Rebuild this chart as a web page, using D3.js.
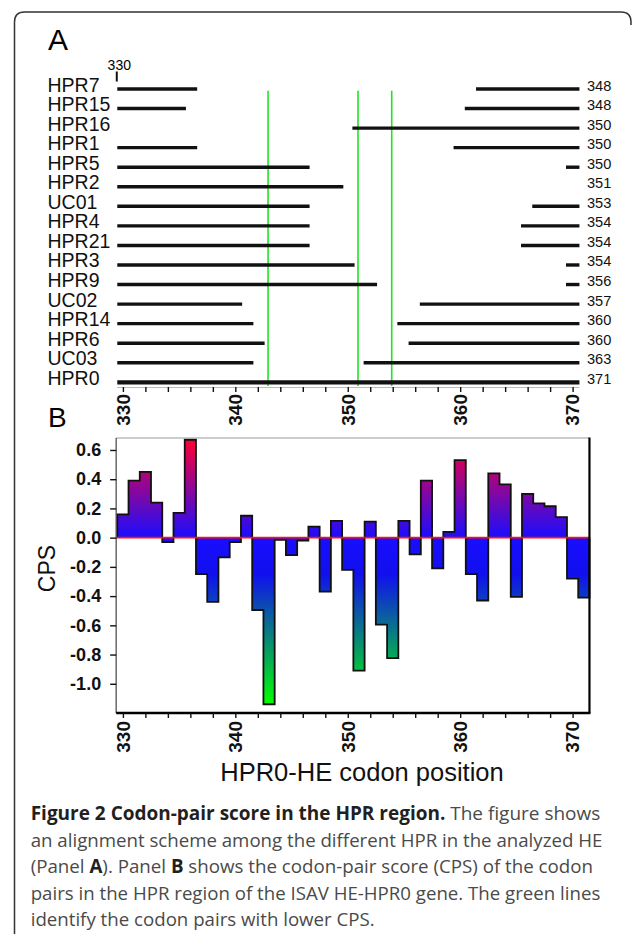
<!DOCTYPE html>
<html>
<head>
<meta charset="utf-8">
<script src="https://cdn.jsdelivr.net/npm/d3@7"></script>
<style>
  body { margin: 0; background: #fff; }
  svg { display: block; }
  .sans { font-family: 'Liberation Sans', Arial, Helvetica, sans-serif; }
  .cap { font-family: 'Open Sans', 'Noto Sans', sans-serif; }
</style>
</head>
<body>
<div id="chart"></div>
<script>
// Panel A: alinhamento dos HPR
const rowNames = ['HPR7', 'HPR15', 'HPR16', 'HPR1', 'HPR5', 'HPR2', 'UC01', 'HPR4',
  'HPR21', 'HPR3', 'HPR9', 'UC02', 'HPR14', 'HPR6', 'UC03', 'HPR0'];
const rowEnds = [348, 348, 350, 350, 350, 351, 353, 354, 354, 354, 356, 357, 360, 360, 363, 371];
const leftSegs = [[330, 336], [330, 335], null, [330, 336], [330, 346], [330, 349], [330, 346], [330, 346],
  [330, 346], [330, 350], [330, 352], [330, 340], [330, 341], [330, 342], [330, 341], [330, 370]];
const rightSegs = [[362, 370], [361, 370], [351, 370], [360, 370], [370, 370], null, [367, 370], [366, 370],
  [366, 370], [370, 370], [370, 370], [357, 370], [355, 370], [356, 370], [352, 370], null];
const lowCpsCodons = [343, 351, 354];

// Panel B: CPS por codon
const codons = [330, 331, 332, 333, 334, 335, 336, 337, 338, 339, 340, 341, 342, 343, 344, 345, 346, 347,
  348, 349, 350, 351, 352, 353, 354, 355, 356, 357, 358, 359, 360, 361, 362, 363, 364, 365, 366, 367,
  368, 369, 370, 371];
const cps = [0.16, 0.39, 0.45, 0.24, -0.03, 0.17, 0.67, -0.25, -0.44, -0.135, -0.03, 0.15, -0.495, -1.14,
  -0.015, -0.12, -0.02, 0.075, -0.37, 0.115, -0.22, -0.91, 0.11, -0.595, -0.825, 0.115, -0.115, 0.39,
  -0.21, 0.04, 0.53, -0.25, -0.43, 0.44, 0.365, -0.405, 0.30, 0.235, 0.215, 0.14, -0.28, -0.41];

const axisTicks = [330, 332, 334, 336, 338, 340, 342, 344, 346, 348, 350, 352, 354, 356, 358, 360,
  362, 364, 366, 368, 370];
const yTicks = [0.6, 0.4, 0.2, 0.0, -0.2, -0.4, -0.6, -0.8, -1.0];

const width = 633, height = 934;

const svg = d3.select('#chart').append('svg')
  .attr('width', width)
  .attr('height', height);

svg.append('rect').attr('width', width).attr('height', height).attr('fill', '#fff');

// moldura arredondada (so lado esquerdo e topo)
svg.append('path')
  .attr('d', 'M14.5,934 V22 Q14.5,12 24.5,12 H621 Q631,12 631,22 V25')
  .attr('fill', 'none')
  .attr('stroke', '#333')
  .attr('stroke-width', 1.5);

const x = d3.scaleLinear().domain([330, 370]).range([122.9, 572.6]);

// ---------- Panel A ----------
const rowY = d3.scalePoint().domain(rowNames).range([89, 382.3]);

svg.append('text').attr('class', 'sans')
  .attr('x', 48).attr('y', 50)
  .attr('font-size', 30)
  .text('A');

svg.append('text').attr('class', 'sans')
  .attr('x', x(329.5) + 2).attr('y', 69.5)
  .attr('text-anchor', 'middle')
  .attr('font-size', 14)
  .text('330');

svg.append('line')
  .attr('x1', x(329.5) - 0.5).attr('x2', x(329.5) - 0.5)
  .attr('y1', 71.5).attr('y2', 81.5)
  .attr('stroke', '#111').attr('stroke-width', 2);

// linhas verdes
svg.selectAll('.green-line')
  .data(lowCpsCodons)
  .enter()
  .append('line')
  .attr('class', 'green-line')
  .attr('x1', d => x(d) - 1).attr('x2', d => x(d) - 1)
  .attr('y1', 90.7).attr('y2', 386)
  .attr('stroke', '#1ee61e')
  .attr('stroke-width', 1.6);

rowNames.forEach((name, i) => {
  const yy = rowY(name);

  svg.append('text').attr('class', 'sans')
    .attr('x', 47.5).attr('y', yy + 2.5)
    .attr('font-size', 19.5)
    .attr('fill', '#111')
    .text(name);

  [leftSegs[i], rightSegs[i]].forEach(seg => {
    if (!seg) return;
    svg.append('line')
      .attr('x1', x(seg[0] - 0.5) - (seg[0] === 330 ? 0 : 1))
      .attr('x2', x(seg[1] + 0.5) + 1.2)
      .attr('y1', yy).attr('y2', yy)
      .attr('stroke', '#111')
      .attr('stroke-width', name === 'HPR0' ? 4.2 : 3.4);
  });

  svg.append('text').attr('class', 'sans')
    .attr('x', 587).attr('y', yy + 1.5)
    .attr('font-size', 14.6)
    .attr('fill', '#111')
    .text(rowEnds[i]);
});

// eixo do painel A
const axisA = svg.append('g')
  .attr('transform', 'translate(0,387)')
  .call(d3.axisBottom(x).tickValues(axisTicks).tickSize(5).tickFormat(''));
axisA.select('.domain').attr('stroke', '#bbb').attr('d', `M${x(329.5)},0.5H${x(370.6)}`);
axisA.selectAll('.tick line').attr('stroke', '#111').attr('stroke-width', 1.4);

svg.selectAll('.tickA')
  .data(axisTicks.filter(d => d % 10 === 0))
  .enter()
  .append('text')
  .attr('class', 'sans tickA')
  .attr('transform', d => `translate(${x(d)},394) rotate(-90)`)
  .attr('text-anchor', 'end')
  .attr('dy', '0.36em')
  .attr('font-size', 19)
  .attr('font-weight', 'bold')
  .attr('fill', '#111')
  .text(d => d);

// ---------- Panel B ----------
const plot = { left: x(329.4), right: x(371.5), top: 438, bottom: 713 };
const y = d3.scaleLinear().domain([-1.2, 0.682]).range([plot.bottom, plot.top]);

svg.append('text').attr('class', 'sans')
  .attr('x', 48).attr('y', 427)
  .attr('font-size', 28)
  .text('B');

// gradiente vermelho -> azul -> verde
const grad = svg.append('defs').append('linearGradient')
  .attr('id', 'cpsGrad')
  .attr('gradientUnits', 'userSpaceOnUse')
  .attr('x1', 0).attr('x2', 0)
  .attr('y1', y(0.67)).attr('y2', y(-1.14));

const gradStops = [
  { v: 0.67, c: '#ff0033' },
  { v: 0.0, c: '#1a0dff' },
  { v: -0.25, c: '#1010ee' },
  { v: -1.14, c: '#00ff00' }
];
gradStops.forEach(s => {
  grad.append('stop')
    .attr('offset', (y(s.v) - y(0.67)) / (y(-1.14) - y(0.67)))
    .attr('stop-color', s.c);
});

const stepPoints = codons.map((c, i) => [c - 0.5, cps[i]]);
stepPoints.push([codons[codons.length - 1] + 0.5, cps[cps.length - 1]]);

const area = d3.area()
  .curve(d3.curveStepAfter)
  .x(d => x(d[0]))
  .y0(y(0))
  .y1(d => y(d[1]));

svg.append('path')
  .datum(stepPoints)
  .attr('d', area)
  .attr('fill', 'url(#cpsGrad)');

const outline = d3.line()
  .curve(d3.curveStepAfter)
  .x(d => x(d[0]))
  .y(d => y(d[1]));

svg.append('path')
  .datum([[codons[0] - 0.5, 0]].concat(stepPoints, [[codons[codons.length - 1] + 0.5, 0]]))
  .attr('d', outline)
  .attr('fill', 'none')
  .attr('stroke', '#111')
  .attr('stroke-width', 1.8)
  .attr('stroke-linejoin', 'miter');

// linha do zero
svg.append('line')
  .attr('x1', plot.left).attr('x2', plot.right)
  .attr('y1', y(0)).attr('y2', y(0))
  .attr('stroke', '#ff1010')
  .attr('stroke-width', 1.6);

// moldura do grafico
svg.append('line')
  .attr('x1', plot.left).attr('x2', plot.right)
  .attr('y1', plot.top).attr('y2', plot.top)
  .attr('stroke', '#999').attr('stroke-width', 1);
svg.append('line')
  .attr('x1', plot.left).attr('x2', plot.left)
  .attr('y1', plot.top).attr('y2', plot.bottom)
  .attr('stroke', '#444').attr('stroke-width', 1.2);
svg.append('line')
  .attr('x1', plot.right).attr('x2', plot.right)
  .attr('y1', plot.top - 0.5).attr('y2', plot.bottom)
  .attr('stroke', '#000').attr('stroke-width', 2.2);

// eixo y
const axisY = svg.append('g')
  .attr('transform', `translate(${plot.left},0)`)
  .call(d3.axisLeft(y).tickValues(yTicks).tickSize(6).tickPadding(9).tickFormat(d => d.toFixed(1)));
axisY.select('.domain').remove();
axisY.selectAll('.tick line').attr('stroke', '#111').attr('stroke-width', 1.4);
axisY.selectAll('.tick text')
  .attr('class', 'sans')
  .attr('font-size', 18)
  .attr('font-weight', 'bold')
  .attr('fill', '#111');

// eixo x
const axisB = svg.append('g')
  .attr('transform', `translate(0,${plot.bottom})`)
  .call(d3.axisBottom(x).tickValues(axisTicks).tickSize(5).tickFormat(''));
axisB.select('.domain').attr('stroke', '#000').attr('stroke-width', 2.4)
  .attr('d', `M${plot.left},0H${plot.right + 1}`);
axisB.selectAll('.tick line').attr('stroke', '#111').attr('stroke-width', 1.4);

svg.selectAll('.tickB')
  .data(axisTicks.filter(d => d % 10 === 0))
  .enter()
  .append('text')
  .attr('class', 'sans tickB')
  .attr('transform', d => `translate(${x(d)},721) rotate(-90)`)
  .attr('text-anchor', 'end')
  .attr('dy', '0.36em')
  .attr('font-size', 19)
  .attr('font-weight', 'bold')
  .attr('fill', '#111')
  .text(d => d);

svg.append('text').attr('class', 'sans')
  .attr('transform', 'translate(55,568.5) rotate(-90)')
  .attr('text-anchor', 'middle')
  .attr('font-size', 23)
  .attr('fill', '#111')
  .text('CPS');

svg.append('text').attr('class', 'sans')
  .attr('x', 362).attr('y', 781)
  .attr('text-anchor', 'middle')
  .attr('font-size', 25.5)
  .attr('fill', '#111')
  .text('HPR0-HE codon position');

// ---------- Legenda ----------
const captionLines = [
  { w: 569.6, parts: [['Figure 2 Codon-pair score in the HPR region.', true], [' The figure shows', false]] },
  { w: 571.6, parts: [['an alignment scheme among the different HPR in the analyzed HE', false]] },
  { w: 562.3, parts: [['(Panel ', false], ['A', true], ['). Panel ', false], ['B', true], [' shows the codon-pair score (CPS) of the codon', false]] },
  { w: 569.6, parts: [['pairs in the HPR region of the ISAV HE-HPR0 gene. The green lines', false]] },
  { w: 344, parts: [['identify the codon pairs with lower CPS.', false]] }
];

captionLines.forEach((line, i) => {
  const t = svg.append('text').attr('class', 'cap')
    .attr('x', 30.7).attr('y', 820 + i * 26.6)
    .attr('font-size', 19)
    .attr('textLength', line.w)
    .attr('lengthAdjust', 'spacingAndGlyphs');
  line.parts.forEach(p => {
    t.append('tspan')
      .attr('font-weight', p[1] ? 'bold' : 'normal')
      .attr('fill', p[1] ? '#231f20' : '#4a4a4a')
      .text(p[0]);
  });
});
</script>
</body>
</html>
